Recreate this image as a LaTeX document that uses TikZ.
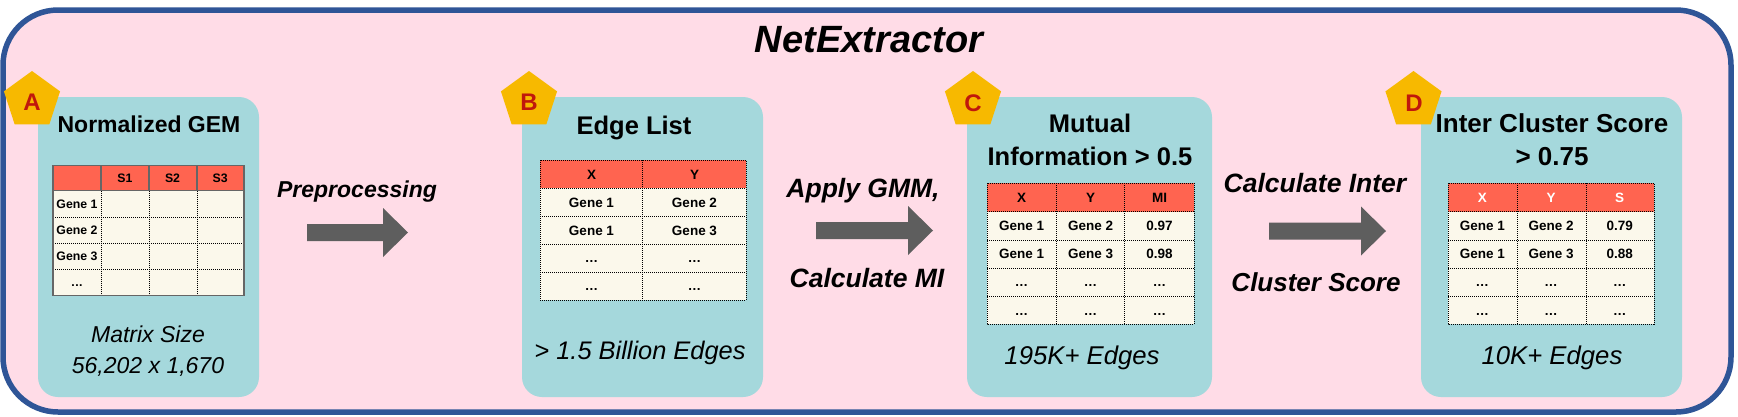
\documentclass[tikz,border=0pt]{standalone}
\usepackage{fontspec}
\setmainfont{Liberation Sans}
\usetikzlibrary{shapes.geometric}
\definecolor{framblue}{HTML}{2F5597}
\definecolor{pinkbg}{HTML}{FFDCE7}
\definecolor{tealbox}{HTML}{A5D8DC}
\definecolor{hdrred}{HTML}{FF6450}
\definecolor{creamrow}{HTML}{FBF8EB}
\definecolor{goldpent}{HTML}{F7B900}
\definecolor{letred}{HTML}{C0180C}
\definecolor{arrowgray}{HTML}{5E5E5E}
\definecolor{tborder}{HTML}{666666}
\newcommand\fsz[1]{\fontsize{#1}{#1}\selectfont}
\newcommand\eld{.\kern0.5pt.\kern0.5pt.}
\newcommand\blockarrow[3]{\fill[arrowgray] (#1,#3-8.5) -- (#2-25,#3-8.5) -- (#2-25,#3-24.5) -- (#2,#3) -- (#2-25,#3+24.5) -- (#2-25,#3+8.5) -- (#1,#3+8.5) -- cycle;}
\begin{document}
\begin{tikzpicture}[x=1pt,y=-1pt,
  panel/.style={rectangle, rounded corners=20pt, fill=tealbox, inner sep=0pt},
  penta/.style={regular polygon, regular polygon sides=5, minimum size=59pt, inner sep=0pt, fill=goldpent},
  letter/.style={font=\bfseries\fsz{24}, text=letred, text height=17.3pt, text depth=0pt, inner sep=0pt},
  ttlA/.style={font=\bfseries\fsz{23}, text height=16.5pt, text depth=0pt, inner sep=0pt},
  ttl/.style={font=\bfseries\fsz{25.5}, text height=18.3pt, text depth=0pt, inner sep=0pt},
  subA/.style={font=\itshape\fsz{23}, text height=16.5pt, text depth=0pt, inner sep=0pt},
  sub/.style={font=\itshape\fsz{25.7}, text height=18.5pt, text depth=0pt, inner sep=0pt},
  albl/.style={font=\bfseries\itshape\fsz{26.5}, text height=19pt, text depth=0pt, inner sep=0pt},
  cellA/.style={font=\bfseries\fsz{12.3}, text height=8.9pt, text depth=0pt, inner sep=0pt},
  cell/.style={font=\bfseries\fsz{13.5}, text height=9.7pt, text depth=0pt, inner sep=0pt},
  dotline/.style={black, line width=0.8pt, dash pattern=on 1pt off 1pt},
  solidline/.style={tborder, line width=1.2pt}
]
\useasboundingbox (0,0) rectangle (1738,416);
% outer frame
\draw[framblue, line width=5.5pt, fill=pinkbg, rounded corners=55pt] (3,10) rectangle (1731,412);
\node[font=\bfseries\itshape\fsz{38}, text height=27.4pt, text depth=0pt, inner sep=0pt] (title) at (869,39) {NetExtractor};

% panels
\node[panel, minimum width=221pt, minimum height=300pt] (pA) at (148.5,247) {};
\node[panel, minimum width=241pt, minimum height=300pt] (pB) at (642.5,247) {};
\node[panel, minimum width=245pt, minimum height=300pt] (pC) at (1089.5,247) {};
\node[panel, minimum width=261pt, minimum height=300pt] (pD) at (1551.5,247) {};

% pentagons
\node[penta] (gA) at (32,100.5) {};
\node[penta] (gB) at (529,100.5) {};
\node[penta] (gC) at (973,100.5) {};
\node[penta] (gD) at (1413.5,100.5) {};
\node[letter] (lA) at (32,102) {A};
\node[letter] (lB) at (529,102) {B};
\node[letter] (lC) at (973,103) {C};
\node[letter] (lD) at (1414,103) {D};

% titles
\node[ttlA] (tA) at (149,124) {Normalized GEM};
\node[ttl] (tB) at (634,125) {Edge List};
\node[ttl] (tC1) at (1090,123) {Mutual};
\node[ttl] (tC2) at (1090,156) {Information > 0.5};
\node[ttl, font=\bfseries\fsz{26}] (tD1) at (1552,123) {Inter Cluster Score};
\node[ttl, font=\bfseries\fsz{26}] (tD2) at (1552,156) {> 0.75};

% bottom texts
\node[subA] (sA1) at (148,334) {Matrix Size};
\node[subA] (sA2) at (148,365) {56,202 x 1,670};
\node[sub, font=\itshape\fsz{25.4}] (sB) at (640,350) {> 1.5 Billion Edges};
\node[sub] (sC) at (1082,355) {195K+ Edges};
\node[sub] (sD) at (1552,355) {10K+ Edges};

% arrows and labels
\blockarrow{307}{408}{232.5}
\blockarrow{816}{933}{230.5}
\blockarrow{1269}{1386}{231}
\node[albl, font=\bfseries\itshape\fsz{23}] (aA) at (357,188) {Preprocessing};
\node[albl] (aB1) at (863,188) {Apply GMM,};
\node[albl] (aB2) at (867,278) {Calculate MI};
\node[albl] (aC1) at (1315,183) {Calculate Inter};
\node[albl, font=\bfseries\itshape\fsz{26}] (aC2) at (1316,282) {Cluster Score};

% ---- table A
\fill[hdrred] (53,165.3) rectangle (244,190.7);
\fill[creamrow] (53,190.7) rectangle (244,295.3);
\foreach \y in {217.3,243.3,269.3} \draw[dotline] (53,\y) -- (244,\y);
\foreach \x in {101,149,197} {
  \draw[solidline] (\x,165.3) -- (\x,190.7);
  \draw[dotline] (\x,190.7) -- (\x,295.3);
}
\draw[solidline] (53,190.7) -- (244,190.7);
\draw[solidline] (53,165.3) rectangle (244,295.3);
\foreach \t [count=\k] in {S1,S2,S3}
  \node[cellA] (hA\k) at ({101+(\k-0.5)*47.7},178) {\t};
\foreach \t [count=\r] in {Gene 1,Gene 2,Gene 3,\eld}
  \node[cellA] (rA\r) at (77,{190.7+(\r-0.5)*26.15}) {\t};

% ---- table B
\fill[hdrred] (540,160) rectangle (746,188.3);
\fill[creamrow] (540,188.3) rectangle (746,300);
\foreach \y in {188.3,216.3,244.3,272.3} \draw[dotline] (540,\y) -- (746,\y);
\draw[dotline] (642,160) -- (642,300);
\draw[dotline] (540,160) rectangle (746,300);
\foreach \t [count=\k] in {X,Y}
  \node[cell] (hB\k) at ({540+(\k-0.5)*103},174.2) {\t};
\foreach \row [count=\r] in {{Gene 1,Gene 2},{Gene 1,Gene 3},{\eld,\eld},{\eld,\eld}}
  \foreach \t [count=\k] in \row
    \node[cell] (B\r\k) at ({540+(\k-0.5)*103},{188.3+(\r-0.5)*27.9}) {\t};

% ---- table C
\fill[hdrred] (987,183.3) rectangle (1194,211.7);
\fill[creamrow] (987,211.7) rectangle (1194,324.3);
\foreach \y in {211.7,240,268.3,296.7} \draw[dotline] (987,\y) -- (1194,\y);
\foreach \x in {1056,1124} \draw[dotline] (\x,183.3) -- (\x,324.3);
\draw[dotline] (987,183.3) rectangle (1194,324.3);
\foreach \t [count=\k] in {X,Y,MI}
  \node[cell] (hC\k) at ({987+(\k-0.5)*69},197.5) {\t};
\foreach \row [count=\r] in {{Gene 1,Gene 2,0.97},{Gene 1,Gene 3,0.98},{\eld,\eld,\eld},{\eld,\eld,\eld}}
  \foreach \t [count=\k] in \row
    \node[cell] (C\r\k) at ({987+(\k-0.5)*69},{211.7+(\r-0.5)*28.15}) {\t};

% ---- table D
\fill[hdrred] (1448,183.3) rectangle (1654,211.7);
\fill[creamrow] (1448,211.7) rectangle (1654,324.3);
\foreach \y in {211.7,240,268.3,296.7} \draw[dotline] (1448,\y) -- (1654,\y);
\foreach \x in {1517,1586} \draw[dotline] (\x,183.3) -- (\x,324.3);
\draw[dotline] (1448,183.3) rectangle (1654,324.3);
\foreach \t [count=\k] in {X,Y,S}
  \node[cell, text=white] (hD\k) at ({1448+(\k-0.5)*68.67},197.5) {\t};
\foreach \row [count=\r] in {{Gene 1,Gene 2,0.79},{Gene 1,Gene 3,0.88},{\eld,\eld,\eld},{\eld,\eld,\eld}}
  \foreach \t [count=\k] in \row
    \node[cell] (D\r\k) at ({1448+(\k-0.5)*68.67},{211.7+(\r-0.5)*28.15}) {\t};
\end{tikzpicture}
\end{document}
